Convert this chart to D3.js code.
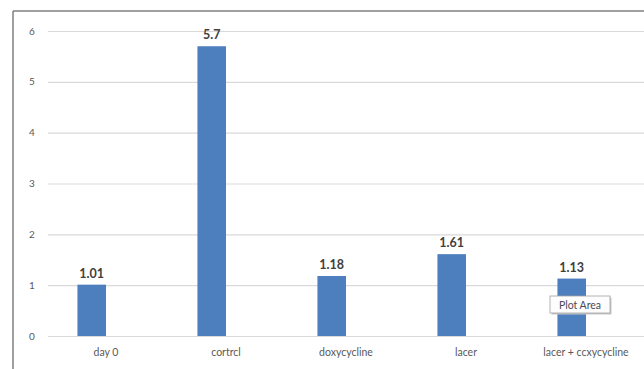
<!DOCTYPE html>
<html>
<head>
<meta charset="utf-8">
<script src="https://cdn.jsdelivr.net/npm/d3@7"></script>
<style>
  body { margin: 0; background: #fff; }
  svg { display: block; font-family: Lato, "Noto Sans", sans-serif; }
</style>
</head>
<body>
<div id="chart"></div>
<script>
// chart values
var categories = ["day 0", "cortrcl", "doxycycline", "lacer", "lacer + ccxycycline"];
var values = [1.01, 5.7, 1.18, 1.61, 1.13];
var valueLabels = ["1.01", "5.7", "1.18", "1.61", "1.13"];
var yTicks = [0, 1, 2, 3, 4, 5, 6];

var w = 644, h = 369;
var gridLeft = 48, bandLeft = 46, plotTop = 31, plotBottom = 336;
var bandW = 120;

var svg = d3.select("#chart").append("svg")
    .attr("width", w)
    .attr("height", h);

var xScale = d3.scaleBand()
    .domain(categories)
    .range([bandLeft, bandLeft + bandW * categories.length])
    .paddingInner(0).paddingOuter(0);

// two series per category in the original, second is empty
var subScale = d3.scaleBand()
    .domain(["a", "b"])
    .range([0, bandW])
    .paddingOuter(1.1).paddingInner(0);

var yScale = d3.scaleLinear().domain([0, 6]).range([plotBottom, plotTop]);

// chart area frame (top + left edges visible)
svg.append("line")
    .attr("x1", 13).attr("x2", w).attr("y1", 11).attr("y2", 11)
    .attr("stroke", "#7f7f7f").attr("stroke-width", 1.5);
svg.append("line")
    .attr("x1", 13).attr("x2", 13).attr("y1", 11).attr("y2", h)
    .attr("stroke", "#7f7f7f").attr("stroke-width", 1.5);

// horizontal grid
var yAxis = d3.axisLeft(yScale).tickValues(yTicks)
    .tickSize(-(w - gridLeft)).tickFormat("");
svg.append("g")
    .attr("class", "grid")
    .attr("transform", "translate(" + gridLeft + ",0)")
    .call(yAxis)
    .call(function(g) {
        g.select(".domain").remove();
        g.selectAll("line").attr("stroke", "#d9d9d9").attr("stroke-width", 1.2);
    });

// y labels
svg.append("g")
    .selectAll("text")
    .data(yTicks)
    .enter().append("text")
    .attr("x", 32)
    .attr("y", function(d) { return yScale(d) + 3.5; })
    .attr("text-anchor", "middle")
    .attr("font-size", 10)
    .attr("fill", "#595959")
    .text(function(d) { return d; });

// bars
svg.append("g")
    .selectAll("rect")
    .data(values)
    .enter().append("rect")
    .attr("x", function(d, i) { return xScale(categories[i]) + subScale("a"); })
    .attr("y", function(d) { return yScale(d); })
    .attr("width", subScale.bandwidth())
    .attr("height", function(d) { return plotBottom - yScale(d); })
    .attr("fill", "#4d7fbe");

// data labels
svg.append("g")
    .selectAll("text")
    .data(values)
    .enter().append("text")
    .attr("x", function(d, i) { return xScale(categories[i]) + subScale("a") + subScale.bandwidth() / 2; })
    .attr("y", function(d) { return yScale(d) - 7; })
    .attr("text-anchor", "middle")
    .attr("font-size", 12.5)
    .attr("font-weight", "bold")
    .attr("fill", "#404040")
    .text(function(d, i) { return valueLabels[i]; });

// category labels
svg.append("g")
    .selectAll("text")
    .data(categories)
    .enter().append("text")
    .attr("x", function(d) { return xScale(d) + bandW / 2; })
    .attr("y", 356)
    .attr("text-anchor", "middle")
    .attr("font-size", 10.5)
    .attr("fill", "#595959")
    .text(function(d) { return d; });

// "Plot Area" tooltip
var tip = svg.append("g").attr("transform", "translate(550,296)");
tip.append("rect")
    .attr("x", 1.5).attr("y", 1.5).attr("width", 60).attr("height", 17)
    .attr("fill", "#c8c8c8");
tip.append("rect")
    .attr("width", 60).attr("height", 17)
    .attr("fill", "#fdfdfd").attr("stroke", "#a0a0a0").attr("stroke-width", 0.8);
tip.append("text")
    .attr("x", 30).attr("y", 12.5)
    .attr("text-anchor", "middle")
    .attr("font-size", 10.5)
    .attr("fill", "#4a4a5a")
    .text("Plot Area");
</script>
</body>
</html>
